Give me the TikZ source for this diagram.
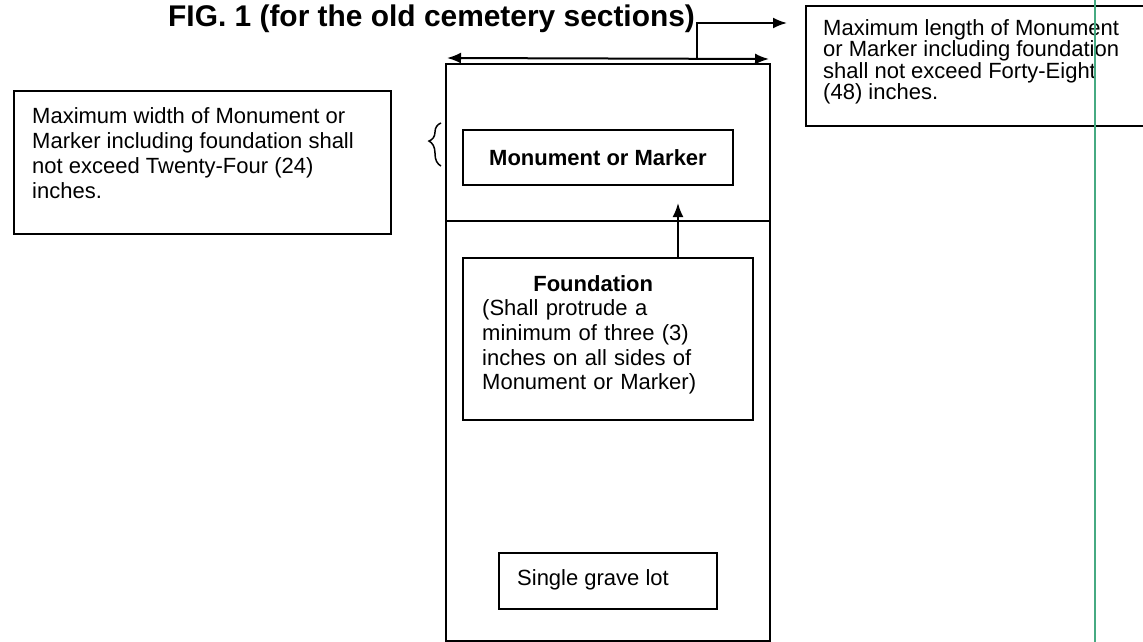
\documentclass[tikz,border=0pt]{standalone}
\usepackage{fontspec}
\setmainfont{Liberation Sans}
\usetikzlibrary{arrows.meta, positioning, calc, decorations.pathreplacing}

\begin{document}
\begin{tikzpicture}[x=1pt, y=-1pt,
  frame/.style={draw, line width=2pt, inner sep=0pt},
  note/.style={inner sep=0pt, anchor=north west, align=left, font=\fontsize{22}{25}\selectfont},
  tipline/.style={-{Latex[length=14pt,width=11pt]}, line width=2pt}]
\useasboundingbox (0,0) rectangle (1143,642);

%title
\node[anchor=base west, inner sep=0pt, font=\bfseries\fontsize{29.9}{34}\selectfont] (title) at (168,27) {FIG. 1 (for the old cemetery sections)};

%nodes
\node[frame, minimum width=324pt, minimum height=577pt, anchor=north west] (lot) at (445,63) {};
\node[frame, minimum width=270pt, minimum height=55pt, font=\bfseries\fontsize{22}{25}\selectfont] (monument) at (598,157.5) {Monument or Marker};
\node[frame, minimum width=290pt, minimum height=162pt, anchor=north west] (foundation) at (462,257) {};
\node[note, text width=222pt, font=\fontsize{22}{24.7}\selectfont] (foundtext) at ([shift={(20,18)}]foundation.north west) {\centering\textbf{Foundation}\par\raggedright (Shall protrude a\\ minimum of three (3)\\ inches on all sides of\\ Monument or Marker)};
\node[frame, minimum width=218pt, minimum height=56pt, anchor=north west] (single) at (498,552) {};
\node[note, anchor=base west] (singletext) at ([shift={(19,33)}]single.north west) {Single grave lot};
\node[frame, minimum width=377pt, minimum height=143pt, anchor=north west] (widthbox) at (13,90) {};
\node[note] (widthtext) at ([shift={(19,17)}]widthbox.north west) {Maximum width of Monument or\\ Marker including foundation shall\\ not exceed Twenty-Four (24)\\ inches.};
\node[frame, minimum width=360pt, minimum height=120pt, anchor=north west] (lengthbox) at (805,5) {};
\node[note, font=\fontsize{22}{20}\selectfont] (lengthtext) at ([shift={(18,14)}]lengthbox.north west) {Maximum length of Monument\\ or Marker including foundation\\ shall not exceed Forty-Eight\\ (48) inches.};

\coordinate (dimleft) at (447,58);
\coordinate (dimright) at (769,59);
\coordinate (lenfrom) at (697,59);
\coordinate (lento) at (787,23);
\coordinate (uptip) at (678,203);
\coordinate (brbot) at (441,166);
\coordinate (brtop) at (441,123);

%connections
\draw[line width=2pt] (lot.west |- 0,221) -- (lot.east |- 0,221);
\draw[{Latex[length=14pt,width=11pt]}-{Latex[length=14pt,width=11pt]}, line width=2pt] (dimleft) -- (dimright);
\draw[tipline] (lenfrom) |- (lento);
\draw[tipline] (uptip |- foundation.north) -- (uptip);
\draw[decorate, decoration={brace, amplitude=12pt, aspect=0.58}, line width=1.5pt] (brbot) -- (brtop);

%scan line
\draw[color={rgb,255:red,70;green,170;blue,130}, line width=1.2pt] (1095,0) -- (1095,642);
\end{tikzpicture}
\end{document}
